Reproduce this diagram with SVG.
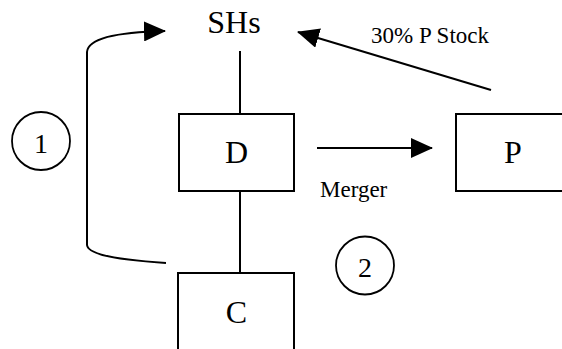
<svg xmlns="http://www.w3.org/2000/svg" width="562" height="349" viewBox="0 0 562 349">
  <defs>
    <marker id="head" markerUnits="userSpaceOnUse" markerWidth="22" markerHeight="20" refX="21" refY="10" orient="auto">
      <path d="M0,0 L22,10 L0,20 z" fill="#000"/>
    </marker>
  </defs>
  <style>
    .box { fill: #fff; stroke: #000; stroke-width: 2; }
    .ring { fill: #fff; stroke: #000; stroke-width: 1.8; }
    .line { fill: none; stroke: #000; stroke-width: 2; }
    .label { font-family: "Liberation Serif", "Times New Roman", serif; fill: #000; }
    .big { font-size: 32px; text-anchor: middle; }
    .num { font-size: 28px; text-anchor: middle; }
    .small { font-size: 23px; }
  </style>
  <rect width="562" height="349" fill="#fff"/>

  <!-- connectors -->
  <g id="connectors">
    <line class="line" x1="240" y1="51" x2="240" y2="114"/>
    <line class="line" x1="240" y1="191" x2="240" y2="273"/>
    <path class="line" d="M166,263 C120,260 88,255 87,245 L87,52 C88,38 120,32 165,31" marker-end="url(#head)"/>
    <line class="line" x1="317" y1="148" x2="432" y2="148" marker-end="url(#head)"/>
    <line class="line" x1="491" y1="90" x2="298" y2="32" marker-end="url(#head)"/>
  </g>

  <g id="node-shs">
    <text class="label big" x="234" y="33">SHs</text>
  </g>
  <g id="node-d">
    <rect class="box" x="179" y="114" width="115" height="77"/>
    <text class="label big" x="236.5" y="163">D</text>
  </g>
  <g id="node-p">
    <rect class="box" x="456" y="114" width="120" height="77"/>
    <text class="label big" x="513" y="163">P</text>
  </g>
  <g id="node-c">
    <rect class="box" x="178" y="273" width="116" height="90"/>
    <text class="label big" x="236.5" y="323">C</text>
  </g>
  <g id="step-1">
    <circle class="ring" cx="41" cy="141" r="29"/>
    <text class="label num" x="41" y="153">1</text>
  </g>
  <g id="step-2">
    <circle class="ring" cx="365" cy="265.5" r="29"/>
    <text class="label num" x="365" y="277">2</text>
  </g>
  <g id="labels">
    <text class="label small" x="371" y="43">30% P Stock</text>
    <text class="label small" x="320" y="197">Merger</text>
  </g>
</svg>
